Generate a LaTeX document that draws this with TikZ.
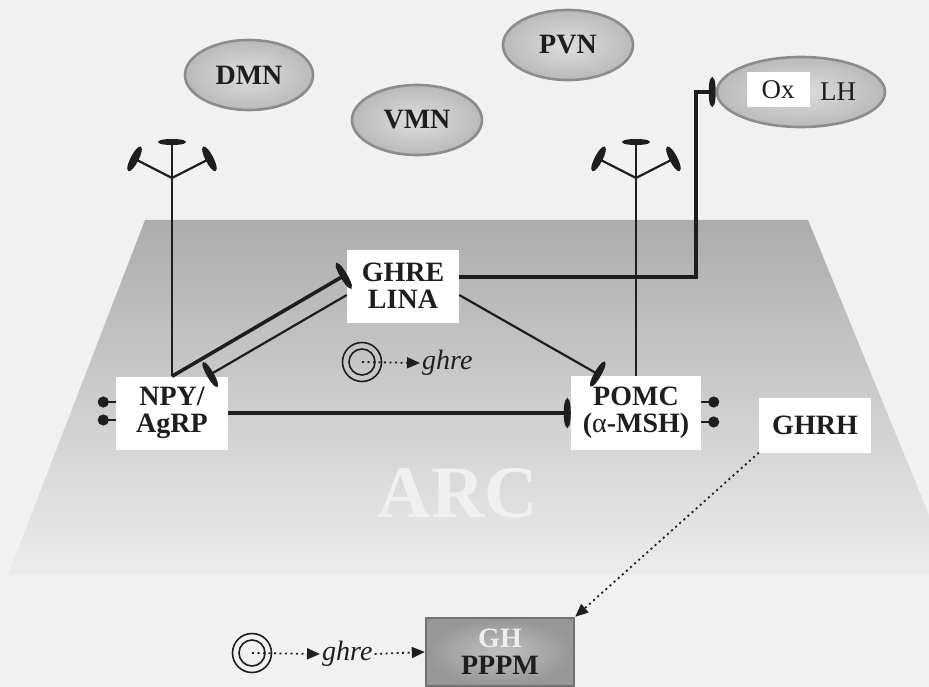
\documentclass[tikz,border=0pt]{standalone}
\usepackage{fontspec}
\setmainfont{Liberation Serif}
\usetikzlibrary{arrows.meta,shapes.geometric,positioning}
\definecolor{paper}{RGB}{241,241,241}
\definecolor{arctop}{RGB}{172,172,172}
\definecolor{arcmid}{RGB}{196,196,196}
\definecolor{arcbot}{RGB}{236,236,236}
\definecolor{arcword}{RGB}{240,240,240}
\definecolor{nucin}{RGB}{222,222,222}
\definecolor{nucout}{RGB}{140,140,140}
\definecolor{ghin}{RGB}{192,192,192}
\definecolor{ghout}{RGB}{150,150,150}
\definecolor{ghlight}{RGB}{238,238,238}
\definecolor{ink}{RGB}{30,30,30}
\tikzset{
  nuc/.style={
    shape = ellipse,
    inner sep = 0pt,
    minimum width = 130pt,
    minimum height = 70pt,
    draw = nucout,
    line width = 2.6pt,
    inner color = nucin,
    outer color = nucout!45!nucin,
    text = ink,
    font = \fontsize{28}{28}\selectfont\bfseries
  },
  cellbox/.style={
    shape = rectangle,
    fill = white,
    inner sep = 0pt,
    minimum width = 112pt,
    minimum height = 73pt,
    align = center,
    text = ink,
    font = \fontsize{28}{27}\selectfont\bfseries
  },
  gene/.style={
    shape = circle,
    draw = ink,
    line width = 1.6pt,
    inner sep = 0pt,
    minimum size = 39pt,
    path picture = {\draw[ink, line width=1.6pt] (path picture bounding box.center) circle (13pt);}
  },
  genetext/.style={
    inner sep = 2pt,
    text = ink,
    font = \fontsize{28}{28}\selectfont\itshape
  },
}
\tikzset{
  axon/.style={draw = ink, line width = 3.6pt},
  fib/.style={draw = ink, line width = 2.2pt},
  inh/.style={-{Ellipse[length=7pt,width=28pt]}},
  knob/.style={-{Circle[length=11pt]}},
  cue/.style={
    draw = ink,
    line width = 1.8pt,
    dash pattern = on 2pt off 3.5pt,
    -{Triangle[length=13pt,width=11pt]}
  },
}
\begin{document}
\begin{tikzpicture}[x=1pt,y=-1pt]
\fill[paper] (0,0) rectangle (929,687);
\useasboundingbox (0,0) rectangle (929,687);
\shade[top color=arctop, middle color=arcmid, bottom color=arcbot] (145,220) -- (808,220) -- (929,515) -- (929,575) -- (8,575) -- cycle;
\node[font=\fontsize{74}{74}\selectfont\bfseries, text=arcword] (arc) at (458,493) {ARC};
\node[nuc, minimum width=128pt] (dmn) at (249,75) {DMN};
\node[nuc] (vmn) at (417,120) {VMN};
\node[nuc] (pvn) at (568,45) {PVN};
\node[nuc, minimum width=168pt] (lh) at (801,92) {};
\node[fill=white, minimum width=63pt, minimum height=35pt, inner sep=0pt, text=ink, font=\fontsize{27}{27}\selectfont] (ox) at ([xshift=-23pt,yshift=2pt]lh.center) {Ox};
\node[text=ink, inner sep=0pt, font=\fontsize{27}{27}\selectfont] (lhname) at ([xshift=37pt]lh.center) {LH};
\node[cellbox] (ghre) at (403,286) {GHRE\\LINA};
\node[cellbox] (npy) at (172,413) {NPY/\\AgRP};
\node[cellbox, minimum width=130pt, minimum height=74pt] (pomc) at (636,413) {POMC\\({\mdseries α}-MSH)};
\node[cellbox, minimum height=55pt] (ghrh) at (815,425) {GHRH};
\node[cellbox, draw=ghout!75!black, line width=2.4pt, inner color=ghin, outer color=ghout, minimum width=148pt, minimum height=68pt] (gh) at (500,652) {\textcolor{ghlight}{GH}\\PPPM};
  \foreach \n/\x in {npy/172,pomc/636}{
    \coordinate (\n fork) at (\x,178);
    \draw[fib, line width=2.8pt] (\n.north) -- (\n fork);
    \draw[fib, -{Ellipse[length=6pt,width=27pt]}] (\n fork) -- ++(0,-39);
    \draw[fib, -{Ellipse[length=8pt,width=27pt]}] (\n fork) -- ++(-41,-21);
    \draw[fib, -{Ellipse[length=8pt,width=27pt]}] (\n fork) -- ++(41,-21); }
\draw[axon, inh] (npy.north) -- ([yshift=12pt]ghre.west);
\draw[fib, inh] ([yshift=-9pt]ghre.west) -- ([xshift=-21pt]npy.north east);
\draw[axon, inh] (npy.east) -- (pomc.west);
\draw[fib, inh] ([yshift=-9pt]ghre.east) -- ([xshift=30pt]pomc.north west);
\draw[axon, inh] ([yshift=9pt]ghre.east) -| ([xshift=-20pt]lh.west) -- (lh.west);
  \foreach \d in {11,-7}{
    \draw[fib, knob] ([yshift=\d pt]npy.west) -- ++(-18,0); }
  \foreach \d in {11,-9}{
    \draw[fib, knob] ([yshift=\d pt]pomc.east) -- ++(18,0); }
\node[gene] (locus) at (362,362) {};
\node[genetext, anchor=west] (ghretext) at (420,363) {ghre};
\draw[cue] (locus.center) -- (ghretext.west);
\node[gene] (pitlocus) at (252,653) {};
\node[genetext, anchor=west] (pitghre) at (320,654) {ghre};
\draw[cue] (pitlocus.center) -- (pitghre.west);
\draw[cue] (pitghre.east) -- (gh.west);
\draw[cue] (ghrh.south west) -- (gh.north east);
\end{tikzpicture}
\end{document}
